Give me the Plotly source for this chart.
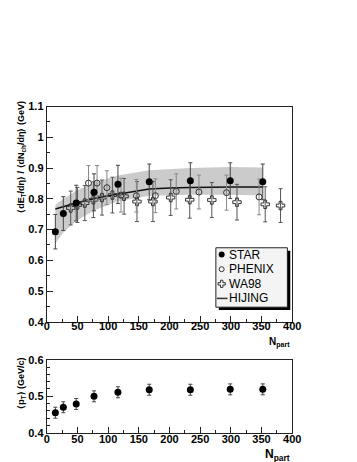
import plotly.graph_objects as go

# ---------------- data ----------------
star_npart = [14, 27, 48, 77, 116, 167, 234, 299, 352]
star_et = [0.693, 0.752, 0.786, 0.821, 0.847, 0.855, 0.859, 0.859, 0.855]
star_err = [0.056, 0.055, 0.058, 0.060, 0.062, 0.058, 0.058, 0.058, 0.058]

band_upper = [0.780, 0.800, 0.826, 0.852, 0.876, 0.893, 0.900, 0.903, 0.902]
band_lower = [0.655, 0.690, 0.728, 0.762, 0.792, 0.810, 0.813, 0.813, 0.811]

phenix_npart = [68, 82, 98, 121, 146, 177, 211, 248, 293, 346]
phenix_et = [0.851, 0.851, 0.836, 0.812, 0.810, 0.810, 0.824, 0.822, 0.820, 0.806]
phenix_err = [0.057, 0.057, 0.055, 0.055, 0.053, 0.055, 0.057, 0.055, 0.057, 0.058]

wa98_npart = [39, 50, 62, 76, 90, 107, 126, 147, 173, 202, 233, 269, 310, 356, 381]
wa98_et = [0.770, 0.780, 0.786, 0.797, 0.804, 0.812, 0.808, 0.791, 0.791, 0.804,
           0.797, 0.796, 0.789, 0.782, 0.778]
wa98_err = [0.055, 0.057, 0.057, 0.058, 0.057, 0.058, 0.058, 0.065, 0.065, 0.058,
            0.060, 0.057, 0.058, 0.057, 0.055]

hijing_npart = [14, 30, 52, 77, 100, 125, 167, 200, 234, 300, 352]
hijing_et = [0.767, 0.777, 0.789, 0.800, 0.810, 0.818, 0.832, 0.835, 0.837, 0.838, 0.838]

pt_mean = [0.455, 0.470, 0.479, 0.500, 0.511, 0.518, 0.518, 0.519, 0.519]
pt_err = [0.015, 0.015, 0.015, 0.015, 0.015, 0.015, 0.015, 0.015, 0.015]

legend_names = ["STAR", "PHENIX", "WA98", "HIJING"]

# ---------------- figure ----------------
W, H = 357, 462
FONT = "Liberation Sans"
fig = go.Figure()

# systematic band
fig.add_trace(go.Scatter(
    x=star_npart + star_npart[::-1], y=band_upper + band_lower[::-1],
    fill="toself", fillcolor="#cbcbcb", line=dict(width=0), mode="lines",
    hoverinfo="skip", showlegend=False, xaxis="x", yaxis="y"))

# HIJING
fig.add_trace(go.Scatter(x=hijing_npart, y=hijing_et, mode="lines",
                         line=dict(color="#111", width=1.5), showlegend=False,
                         xaxis="x", yaxis="y"))

# WA98
fig.add_trace(go.Scatter(
    x=wa98_npart, y=wa98_et, mode="markers",
    marker=dict(symbol="cross-open", size=7, color="#333", line=dict(width=1, color="#333")),
    error_y=dict(type="data", array=wa98_err, color="#555", thickness=1, width=2),
    showlegend=False, xaxis="x", yaxis="y"))

# PHENIX
fig.add_trace(go.Scatter(
    x=phenix_npart, y=phenix_et, mode="markers",
    marker=dict(symbol="circle-open", size=6, color="#333", line=dict(width=1, color="#333")),
    error_y=dict(type="data", array=phenix_err, color="#888", thickness=1, width=2),
    showlegend=False, xaxis="x", yaxis="y"))

# STAR
fig.add_trace(go.Scatter(
    x=star_npart, y=star_et, mode="markers",
    marker=dict(symbol="circle", size=7, color="black"),
    error_y=dict(type="data", array=star_err, color="#444", thickness=1, width=2),
    showlegend=False, xaxis="x", yaxis="y"))

# bottom panel <pT>
fig.add_trace(go.Scatter(
    x=star_npart, y=pt_mean, mode="markers",
    marker=dict(symbol="circle", size=7, color="black"),
    error_y=dict(type="data", array=pt_err, color="#444", thickness=1, width=2),
    showlegend=False, xaxis="x2", yaxis="y2"))

# ---------------- legend (drawn in pixel overlay axes) ----------------
lx0, ly0, lx1, ly1 = 212, 240, 286, 301
row_y = [247, 262, 277, 292]
mark_x = 218
fig.add_shape(type="rect", xref="x3", yref="y3", x0=lx0 + 3, y0=ly0 + 3, x1=lx1 + 3, y1=ly1 + 3,
              fillcolor="black", line=dict(width=0), layer="below")
fig.add_shape(type="rect", xref="x3", yref="y3", x0=lx0, y0=ly0, x1=lx1, y1=ly1,
              fillcolor="#f4f4f4", line=dict(width=1, color="#222"), layer="below")
fig.add_trace(go.Scatter(x=[mark_x], y=[row_y[0]], mode="markers",
                         marker=dict(symbol="circle", size=6, color="black"),
                         showlegend=False, xaxis="x3", yaxis="y3"))
fig.add_trace(go.Scatter(x=[mark_x], y=[row_y[1]], mode="markers",
                         marker=dict(symbol="circle-open", size=5, color="#333", line=dict(width=1)),
                         showlegend=False, xaxis="x3", yaxis="y3"))
fig.add_trace(go.Scatter(x=[mark_x], y=[row_y[2]], mode="markers",
                         marker=dict(symbol="cross-open", size=6, color="#333", line=dict(width=1)),
                         showlegend=False, xaxis="x3", yaxis="y3"))
fig.add_trace(go.Scatter(x=[213, 224], y=[row_y[3], row_y[3]], mode="lines",
                         line=dict(color="#333", width=1.5),
                         showlegend=False, xaxis="x3", yaxis="y3"))
for name, yy in zip(legend_names, row_y):
    fig.add_annotation(x=224, y=yy, xref="x3", yref="y3", text=name, showarrow=False,
                       xanchor="left", yanchor="middle",
                       font=dict(family=FONT, size=12, color="black"))

# ---------------- axes ----------------
tickfont = dict(family=FONT, size=11, color="black", weight="bold")
common = dict(showline=True, linecolor="#222", linewidth=1, mirror=True, ticks="inside",
              tickcolor="#222", ticklen=6, showgrid=False, zeroline=False,
              tickfont=tickfont, tickmode="linear")
fig.update_layout(
    width=W, height=H, margin=dict(l=0, r=0, t=0, b=0),
    paper_bgcolor="white", plot_bgcolor="rgba(0,0,0,0)",
    xaxis=dict(domain=[37 / W, 291 / W], range=[0, 400], anchor="y", tick0=0, dtick=50,
               ticklabelstandoff=-6,
               minor=dict(dtick=25, ticklen=3, ticks="inside", tickcolor="#222"), **common),
    yaxis=dict(domain=[(H - 316) / H, (H - 95) / H], range=[0.4, 1.1], anchor="x",
               tick0=0.4, dtick=0.1,
               minor=dict(dtick=0.05, ticklen=3, ticks="inside", tickcolor="#222"), **common),
    xaxis2=dict(domain=[37 / W, 291 / W], range=[0, 400], anchor="y2", tick0=0, dtick=50,
                ticklabelstandoff=-4,
                minor=dict(dtick=25, ticklen=3, ticks="inside", tickcolor="#222"), **common),
    yaxis2=dict(domain=[(H - 430) / H, (H - 355) / H], range=[0.4, 0.6], anchor="x2",
                tick0=0.4, dtick=0.1,
                minor=dict(dtick=0.02, ticklen=3, ticks="inside", tickcolor="#222"), **common),
    xaxis3=dict(domain=[0, 1], range=[0, W], visible=False, anchor="y3", fixedrange=True),
    yaxis3=dict(domain=[0, 1], range=[H, 0], visible=False, anchor="x3", fixedrange=True),
)

# axis titles
fig.add_annotation(x=11 / W, y=(H - 147) / H, xref="paper", yref="paper", showarrow=False,
                   text="<b>⟨dE<sub>T</sub>/dη⟩ / ⟨dN<sub>ch</sub>/dη⟩ (GeV)</b>", textangle=-90,
                   xanchor="center", yanchor="middle",
                   font=dict(family=FONT, size=9, color="black"))
fig.add_annotation(x=11 / W, y=(H - 379) / H, xref="paper", yref="paper", showarrow=False,
                   text="<b>⟨p<sub>T</sub>⟩ (GeV/c)</b>", textangle=-90,
                   xanchor="center", yanchor="middle", font=dict(family=FONT, size=9, color="black"))
fig.add_annotation(x=291 / W, y=(H - 337) / H, xref="paper", yref="paper", showarrow=False,
                   text="<b>N<sub>part</sub></b>", xanchor="right", yanchor="middle",
                   font=dict(family=FONT, size=10, color="black"))
fig.add_annotation(x=291 / W, y=(H - 453) / H, xref="paper", yref="paper", showarrow=False,
                   text="<b>N<sub>part</sub></b>", xanchor="right", yanchor="middle",
                   font=dict(family=FONT, size=12, color="black"))

fig.write_html("out.html")
